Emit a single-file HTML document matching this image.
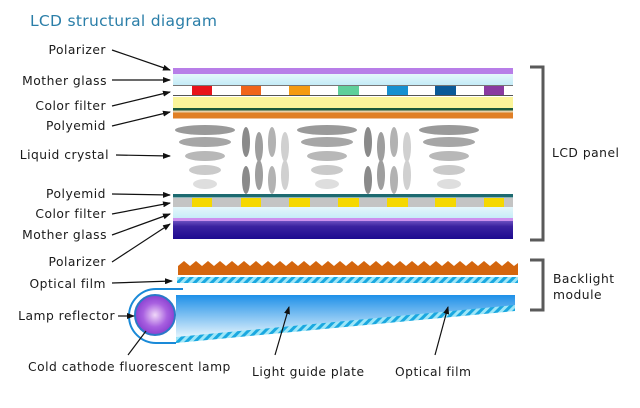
<!DOCTYPE html>
<html><head><meta charset="utf-8"><style>
html,body{margin:0;padding:0;background:#fff;width:640px;height:408px;overflow:hidden}
svg{display:block}
text{font-family:"DejaVu Sans","Liberation Sans",sans-serif;font-size:12.3px;letter-spacing:0.5px;fill:#1a1a1a}
</style></head><body>
<svg width="640" height="408" viewBox="0 0 640 408" xmlns="http://www.w3.org/2000/svg">
<defs>
<marker id="a" markerWidth="8" markerHeight="6" refX="7" refY="3" orient="auto" markerUnits="userSpaceOnUse"><path d="M0,0 L8,3 L0,6 Z" fill="#111"/></marker>
<linearGradient id="ind" x1="0" y1="0" x2="0" y2="1"><stop offset="0" stop-color="#6a4fc0"/><stop offset="0.3" stop-color="#3a22a0"/><stop offset="1" stop-color="#1d0a90"/></linearGradient>
<linearGradient id="lb" x1="0" y1="0" x2="0" y2="1"><stop offset="0" stop-color="#e4f6fb"/><stop offset="1" stop-color="#c4ecf7"/></linearGradient>
<linearGradient id="lgp" x1="0" y1="0" x2="0" y2="1"><stop offset="0" stop-color="#1e90e8"/><stop offset="1" stop-color="#e8f6fd"/></linearGradient>
<radialGradient id="lamp" cx="0.5" cy="0.5" r="0.5"><stop offset="0" stop-color="#f0d8f8"/><stop offset="0.6" stop-color="#a860e0"/><stop offset="1" stop-color="#8a40d0"/></radialGradient>
<pattern id="st" width="6" height="6" patternUnits="userSpaceOnUse" patternTransform="rotate(45)"><rect width="6" height="6" fill="#9ee6f8"/><rect width="3" height="6" fill="#1aa8e0"/></pattern>
</defs>
<text x="30" y="26" style="font-size:15.5px;letter-spacing:0.3px;fill:#2a7ea8">LCD structural diagram</text>
<rect x="173" y="68" width="340" height="6" fill="#b87ee8"/>
<rect x="173" y="74" width="340" height="11" fill="url(#lb)"/>
<rect x="173" y="85" width="340" height="1" fill="#777"/>
<rect x="173" y="86" width="340" height="9" fill="#fff"/>
<rect x="192" y="86" width="20" height="9" fill="#e8131a"/>
<rect x="241" y="86" width="20" height="9" fill="#f0641a"/>
<rect x="289" y="86" width="21" height="9" fill="#f59a10"/>
<rect x="338" y="86" width="21" height="9" fill="#5fcf9a"/>
<rect x="387" y="86" width="21" height="9" fill="#1590d0"/>
<rect x="435" y="86" width="21" height="9" fill="#0a5a98"/>
<rect x="484" y="86" width="20" height="9" fill="#8a3aa0"/>
<rect x="173" y="95" width="340" height="1" fill="#555"/>
<rect x="173" y="97" width="340" height="11" fill="#fbf59a"/>
<rect x="173" y="108" width="340" height="2.5" fill="#1a5a3a"/>
<rect x="173" y="110.5" width="340" height="2" fill="#e8d0a8"/>
<rect x="173" y="112.5" width="340" height="6" fill="#e07f25"/>
<g>
<g id="col">
<ellipse cx="205" cy="130" rx="30" ry="5" fill="#9a9a9a"/>
<ellipse cx="205" cy="142" rx="26" ry="5" fill="#a6a6a6"/>
<ellipse cx="205" cy="156" rx="20" ry="5" fill="#b8b8b8"/>
<ellipse cx="205" cy="170" rx="16" ry="5" fill="#cacaca"/>
<ellipse cx="205" cy="184" rx="12" ry="5" fill="#dedede"/>
</g>
<use href="#col" x="122"/>
<use href="#col" x="244"/>
<g id="v">
<ellipse cx="246" cy="142" rx="4" ry="15" fill="#8a8a8a"/>
<ellipse cx="259" cy="147" rx="4" ry="15" fill="#9e9e9e"/>
<ellipse cx="272" cy="142" rx="4" ry="15" fill="#b2b2b2"/>
<ellipse cx="285" cy="147" rx="4" ry="15" fill="#d0d0d0"/>
<ellipse cx="246" cy="180" rx="4" ry="14" fill="#8a8a8a"/>
<ellipse cx="259" cy="175" rx="4" ry="15" fill="#9e9e9e"/>
<ellipse cx="272" cy="180" rx="4" ry="14" fill="#b2b2b2"/>
<ellipse cx="285" cy="175" rx="4" ry="15" fill="#d0d0d0"/>
</g>
<use href="#v" x="122"/>
</g>
<rect x="173" y="194" width="340" height="3.5" fill="#1d6a70"/>
<rect x="173" y="198" width="340" height="9" fill="#c4c4c4"/>
<g fill="#f5d800"><rect x="192" y="198" width="20" height="9"/><rect x="241" y="198" width="20" height="9"/><rect x="289" y="198" width="21" height="9"/><rect x="338" y="198" width="21" height="9"/><rect x="387" y="198" width="21" height="9"/><rect x="435" y="198" width="21" height="9"/><rect x="484" y="198" width="20" height="9"/></g>
<rect x="173" y="207" width="340" height="12" fill="url(#lb)"/>
<rect x="173" y="218" width="340" height="3" fill="#cc90ee"/>
<rect x="173" y="221" width="340" height="18" fill="url(#ind)"/>
<path d="M178,275 L178,266 L184,261 L190,266 L196,261 L202,266 L208,261 L214,266 L220,261 L226,266 L232,261 L238,266 L244,261 L250,266 L256,261 L262,266 L268,261 L274,266 L280,261 L286,266 L292,261 L298,266 L304,261 L310,266 L316,261 L322,266 L328,261 L334,266 L340,261 L346,266 L352,261 L358,266 L364,261 L370,266 L376,261 L382,266 L388,261 L394,266 L400,261 L406,266 L412,261 L418,266 L424,261 L430,266 L436,261 L442,266 L448,261 L454,266 L460,261 L466,266 L472,261 L478,266 L484,261 L490,266 L496,261 L502,266 L508,261 L514,266 L518,263 L518,275 Z" fill="#d4660e"/>
<rect x="177" y="277" width="341" height="6" fill="url(#st)"/>
<path d="M176,295 L515,295 L515,307 L176,338 Z" fill="url(#lgp)"/>
<path d="M176,337 L515,305 L515,311 L176,343 Z" fill="url(#st)"/>
<path d="M183,289 L156,289 A27,27 0 0 0 156,343 L176,343" fill="none" stroke="#1a8ad8" stroke-width="2"/>
<circle cx="155" cy="315" r="20" fill="url(#lamp)" stroke="#2a78c8" stroke-width="2"/>
<path d="M530,67 L543,67 L543,240 L530,240" fill="none" stroke="#5a5a5a" stroke-width="3"/>
<path d="M530,260 L543,260 L543,310 L530,310" fill="none" stroke="#5a5a5a" stroke-width="3"/>
<text x="552" y="157">LCD panel</text>
<text x="553" y="283">Backlight</text>
<text x="553" y="299">module</text>
<g text-anchor="end">
<text x="106" y="54">Polarizer</text>
<text x="107" y="85">Mother glass</text>
<text x="106" y="110">Color filter</text>
<text x="106" y="130">Polyemid</text>
<text x="109" y="159">Liquid crystal</text>
<text x="106" y="198">Polyemid</text>
<text x="106" y="218">Color filter</text>
<text x="107" y="239">Mother glass</text>
<text x="106" y="266">Polarizer</text>
<text x="106" y="288">Optical film</text>
<text x="115" y="320">Lamp reflector</text>
</g>
<text x="28" y="371">Cold cathode fluorescent lamp</text>
<text x="252" y="376">Light guide plate</text>
<text x="395" y="376">Optical film</text>
<g stroke="#111" stroke-width="1.2" marker-end="url(#a)">
<line x1="112" y1="50" x2="170" y2="70"/>
<line x1="112" y1="80" x2="170" y2="80"/>
<line x1="112" y1="106" x2="170" y2="92"/>
<line x1="112" y1="126" x2="170" y2="112"/>
<line x1="116" y1="155" x2="170" y2="156"/>
<line x1="112" y1="194" x2="170" y2="195"/>
<line x1="112" y1="214" x2="170" y2="203"/>
<line x1="112" y1="235" x2="170" y2="214"/>
<line x1="112" y1="262" x2="170" y2="224"/>
<line x1="112" y1="283" x2="172" y2="281"/>
<line x1="118" y1="316" x2="134" y2="316"/>
<line x1="275" y1="355" x2="289" y2="307"/>
<line x1="435" y1="355" x2="448" y2="307"/>
</g>
<line x1="128" y1="355" x2="146" y2="331" stroke="#111" stroke-width="1.2"/>
</svg>
</body></html>
